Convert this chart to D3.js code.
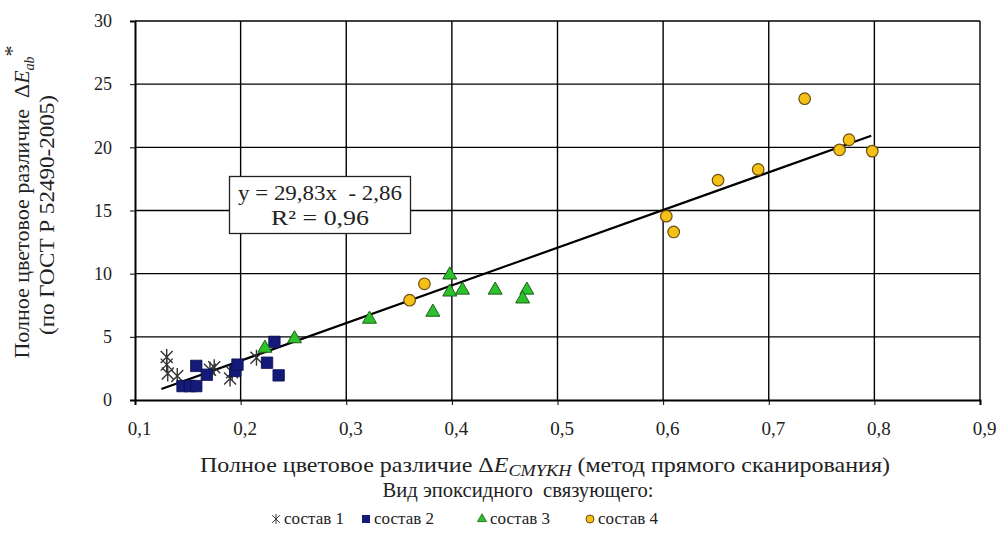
<!DOCTYPE html>
<html>
<head>
<meta charset="utf-8">
<script src="https://cdnjs.cloudflare.com/ajax/libs/d3/7.8.5/d3.min.js"></script>
<style>
  body { margin: 0; background: #fff; }
  svg text { font-family: "Liberation Serif", "Times New Roman", serif; fill: #222; }
</style>
</head>
<body>
<div id="chart"></div>
<script>
// data
const sostav1 = [[0.130, 3.4], [0.130, 2.8], [0.131, 2.1], [0.140, 1.9], [0.171, 2.4],
                 [0.175, 2.6], [0.190, 1.7], [0.192, 2.2], [0.215, 3.35]];
const sostav2 = [[0.145, 1.1], [0.152, 1.1], [0.158, 1.1], [0.158, 2.7], [0.168, 2.0],
                 [0.195, 2.3], [0.197, 2.8], [0.225, 2.95], [0.232, 4.6], [0.236, 1.95]];
const sostav3 = [[0.223, 4.1], [0.251, 4.85], [0.322, 6.4], [0.382, 6.95], [0.398, 9.9],
                 [0.398, 8.55], [0.410, 8.7], [0.441, 8.7], [0.471, 8.7], [0.467, 8.0]];
const sostav4 = [[0.360, 7.9], [0.374, 9.2], [0.603, 14.55], [0.610, 13.3], [0.652, 17.4],
                 [0.690, 18.25], [0.734, 23.85], [0.767, 19.8], [0.776, 20.6], [0.798, 19.7]];
const trendRange = [0.125, 0.797];
const trendSlope = 29.83, trendIntercept = -2.86;
const xTicks = [0.1, 0.2, 0.3, 0.4, 0.5, 0.6, 0.7, 0.8, 0.9];
const yTicks = [0, 5, 10, 15, 20, 25, 30];
const legendNames = ["состав 1", "состав 2", "состав 3", "состав 4"];

const width = 1000, height = 535;
const margin = { top: 21, right: 20, bottom: 135, left: 135 };
const plotW = 980 - margin.left, plotH = 400 - margin.top;

const svg = d3.select("#chart").append("svg")
  .attr("width", width).attr("height", height);

const x = d3.scaleLinear().domain([0.1, 0.9]).range([margin.left, margin.left + plotW]);
const y = d3.scaleLinear().domain([0, 30]).range([margin.top + plotH, margin.top]);

const fmt = d => d3.format(".1f")(d).replace(".", ",");

// gridlines
svg.append("g").selectAll("line").data(xTicks.slice(1))
  .join("line")
  .attr("x1", d => x(d)).attr("x2", d => x(d))
  .attr("y1", y(0)).attr("y2", y(30))
  .attr("stroke", "#000").attr("stroke-width", 1.4);
svg.append("g").selectAll("line").data(yTicks.slice(1))
  .join("line")
  .attr("x1", x(0.1)).attr("x2", x(0.9))
  .attr("y1", d => y(d)).attr("y2", d => y(d))
  .attr("stroke", "#000").attr("stroke-width", 1.4);

// axes
const xAxis = d3.axisBottom(x).tickValues(xTicks).tickFormat(fmt).tickSize(5).tickPadding(17);
const yAxis = d3.axisLeft(y).tickValues(yTicks).tickFormat(d3.format("d")).tickSize(5).tickPadding(18);

svg.append("g").attr("transform", `translate(0,${y(0)})`).call(xAxis)
  .call(g => g.select(".domain").attr("stroke-width", 2))
  .call(g => g.selectAll("text").style("font-size", "19px").attr("fill", "#222").attr("dx", 4));
svg.append("g").attr("transform", `translate(${x(0.1)},0)`).call(yAxis)
  .call(g => g.select(".domain").attr("stroke-width", 2))
  .call(g => g.selectAll("text").style("font-size", "18px").attr("fill", "#222"));

// trendline
svg.append("line")
  .attr("x1", x(trendRange[0])).attr("y1", y(trendSlope * trendRange[0] + trendIntercept))
  .attr("x2", x(trendRange[1])).attr("y2", y(trendSlope * trendRange[1] + trendIntercept))
  .attr("stroke", "#000").attr("stroke-width", 2.2);

// markers
const starPath = s => {
  const r = s / 2, k = r * 0.75;
  return `M0,${-r}L0,${r}M${-k},${-k}L${k},${k}M${-k},${k}L${k},${-k}`;
};
function drawStar(g, data, size) {
  g.selectAll("path").data(data).join("path")
    .attr("transform", d => `translate(${x(d[0])},${y(d[1])})`)
    .attr("d", starPath(size))
    .attr("stroke", "#333").attr("stroke-width", 1.4).attr("fill", "none");
}
const sym = (type, size) => d3.symbol().type(type).size(size)();

drawStar(svg.append("g"), sostav1, 16);

svg.append("g").selectAll("path").data(sostav2).join("path")
  .attr("transform", d => `translate(${x(d[0])},${y(d[1])})`)
  .attr("d", sym(d3.symbolSquare, 130))
  .attr("fill", "#131a78").attr("stroke", "#0a0f4a").attr("stroke-width", 0.8);

svg.append("g").selectAll("path").data(sostav3).join("path")
  .attr("transform", d => `translate(${x(d[0])},${y(d[1])})`)
  .attr("d", sym(d3.symbolTriangle, 85))
  .attr("fill", "#2bc22b").attr("stroke", "#1f5f1a").attr("stroke-width", 1);

svg.append("g").selectAll("path").data(sostav4).join("path")
  .attr("transform", d => `translate(${x(d[0])},${y(d[1])})`)
  .attr("d", sym(d3.symbolCircle, 105))
  .attr("fill", "#f5c116").attr("stroke", "#6b4e10").attr("stroke-width", 1.2);

// equation box
const eq = svg.append("g");
eq.append("rect").attr("x", 229.5).attr("y", 176.5).attr("width", 181).attr("height", 57)
  .attr("fill", "#fff").attr("stroke", "#222").attr("stroke-width", 1.3);
eq.append("text").attr("x", 320).attr("y", 200).attr("text-anchor", "middle")
  .style("font-size", "22px").attr("xml:space", "preserve")
  .attr("textLength", 164).attr("lengthAdjust", "spacingAndGlyphs")
  .text("y = 29,83x  - 2,86");
eq.append("text").attr("x", 320).attr("y", 225).attr("text-anchor", "middle")
  .style("font-size", "22px").attr("textLength", 98).attr("lengthAdjust", "spacingAndGlyphs")
  .text("R² = 0,96");

// x axis title
const xt = svg.append("text").attr("x", 545).attr("y", 472).attr("text-anchor", "middle")
  .style("font-size", "21px").attr("textLength", 690).attr("lengthAdjust", "spacingAndGlyphs");
xt.append("tspan").text("Полное цветовое различие Δ");
xt.append("tspan").text("E").style("font-style", "italic");
xt.append("tspan").text("CMYKH").style("font-style", "italic").style("font-size", "16px").attr("dy", 4);
xt.append("tspan").text(" (метод прямого сканирования)").attr("dy", -4);

svg.append("text").attr("x", 518).attr("y", 497).attr("text-anchor", "middle")
  .style("font-size", "21px").attr("xml:space", "preserve")
  .attr("textLength", 271).attr("lengthAdjust", "spacingAndGlyphs")
  .text("Вид эпоксидного  связующего:");

// y axis title
const yt = svg.append("text").attr("transform", "translate(29,202) rotate(-90)")
  .attr("text-anchor", "middle").style("font-size", "22px");
yt.append("tspan").text("Полное цветовое различие  Δ").attr("xml:space", "preserve");
yt.append("tspan").text("E").style("font-style", "italic");
yt.append("tspan").text("ab").style("font-style", "italic").style("font-size", "14px").attr("dy", 5);
yt.append("tspan").text("*").attr("dy", -15);
svg.append("text").attr("transform", "translate(54,215) rotate(-90)")
  .attr("text-anchor", "middle").style("font-size", "21px")
  .attr("textLength", 240).attr("lengthAdjust", "spacingAndGlyphs")
  .text("(по ГОСТ Р 52490-2005)");

// legend
const legendX = [276, 366, 482, 590];
const lg = svg.append("g");
legendNames.forEach((name, i) => {
  const g = lg.append("g").attr("transform", `translate(${legendX[i]},519)`);
  if (i === 0) {
    g.append("path").attr("d", starPath(10)).attr("stroke", "#333").attr("stroke-width", 1).attr("fill", "none");
  } else if (i === 1) {
    g.append("path").attr("d", sym(d3.symbolSquare, 64)).attr("fill", "#131a78");
  } else if (i === 2) {
    g.append("path").attr("d", sym(d3.symbolTriangle, 36)).attr("fill", "#2bc22b").attr("stroke", "#1f5f1a").attr("stroke-width", 0.8);
  } else {
    g.append("path").attr("d", sym(d3.symbolCircle, 50)).attr("fill", "#f5c116").attr("stroke", "#6b4e10");
  }
  g.append("text").attr("x", 8).attr("y", 5).style("font-size", "17px").text(name);
});
</script>
</body>
</html>
